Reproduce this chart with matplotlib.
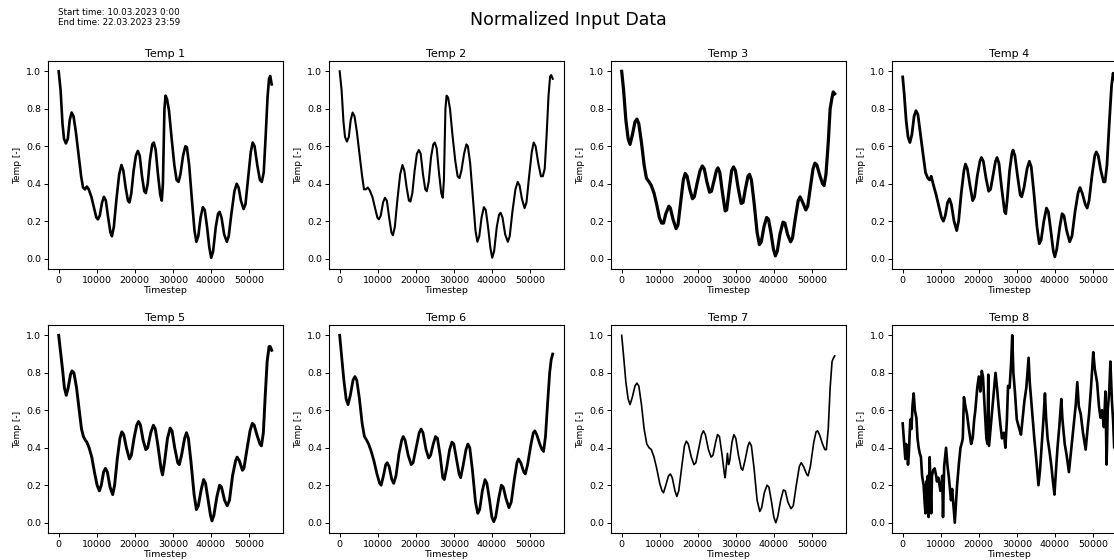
import numpy as np
import matplotlib
matplotlib.use("Agg")
import matplotlib.pyplot as plt

# ---------------- data (timesteps in thousands, normalized values) ----------------
titles = ["Temp 1", "Temp 2", "Temp 3", "Temp 4", "Temp 5", "Temp 6", "Temp 7", "Temp 8"]
start_time = "10.03.2023 0:00"
end_time = "22.03.2023 23:59"
x_ticks = [0, 10000, 20000, 30000, 40000, 50000]
y_ticks = [0.0, 0.2, 0.4, 0.6, 0.8, 1.0]

temp1_t = [0, 0.5, 1.0, 1.4, 1.9, 2.4, 2.9, 3.4, 3.9, 4.5, 5.2, 5.9, 6.4, 6.9, 7.4, 7.9, 8.6, 9.3, 9.9, 10.3,
           10.8, 11.4, 11.9, 12.4, 13.0, 13.6, 14.0, 14.5, 15.2, 15.9, 16.5, 17.0, 17.6, 18.2, 18.6, 19.1, 19.7,
           20.3, 20.8, 21.3, 21.9, 22.5, 22.9, 23.4, 24.0, 24.6, 25.0, 25.5, 26.1, 26.7, 27.1, 27.4, 27.8, 28.1,
           28.5, 29.0, 29.7, 30.4, 31.0, 31.5, 32.0, 32.7, 33.3, 33.7, 34.3, 35.0, 35.7, 36.2, 36.7, 37.3, 37.9,
           38.4, 39.0, 39.6, 40.1, 40.6, 41.3, 41.9, 42.3, 42.8, 43.5, 44.2, 44.7, 45.4, 46.2, 46.8, 47.3, 47.9,
           48.6, 49.1, 49.8, 50.5, 51.0, 51.5, 52.2, 52.9, 53.4, 53.9, 54.4, 54.9, 55.3, 55.6, 56.0]
temp1_v = [1.00, 0.90, 0.72, 0.64, 0.615, 0.64, 0.74, 0.78, 0.76, 0.68, 0.56, 0.44, 0.38, 0.37, 0.385, 0.37,
           0.33, 0.27, 0.22, 0.21, 0.23, 0.30, 0.33, 0.31, 0.22, 0.14, 0.12, 0.17, 0.32, 0.45, 0.50, 0.47, 0.38,
           0.31, 0.30, 0.35, 0.47, 0.55, 0.575, 0.55, 0.44, 0.36, 0.35, 0.40, 0.53, 0.61, 0.62, 0.58, 0.45, 0.34,
           0.31, 0.40, 0.80, 0.87, 0.85, 0.79, 0.64, 0.50, 0.42, 0.41, 0.45, 0.55, 0.60, 0.595, 0.50, 0.32, 0.15,
           0.09, 0.12, 0.22, 0.275, 0.26, 0.17, 0.06, 0.005, 0.04, 0.17, 0.24, 0.25, 0.22, 0.13, 0.09, 0.12, 0.24,
           0.36, 0.40, 0.38, 0.31, 0.265, 0.29, 0.43, 0.57, 0.62, 0.60, 0.50, 0.42, 0.41, 0.46, 0.65, 0.86, 0.96,
           0.975, 0.93]

temp2_t = list(temp1_t)
temp2_v = [1.00, 0.90, 0.73, 0.65, 0.625, 0.65, 0.74, 0.78, 0.76, 0.68, 0.56, 0.44, 0.37, 0.37, 0.38, 0.365,
           0.33, 0.27, 0.22, 0.21, 0.23, 0.30, 0.325, 0.31, 0.22, 0.14, 0.125, 0.17, 0.32, 0.45, 0.50, 0.47, 0.38,
           0.31, 0.305, 0.35, 0.47, 0.56, 0.58, 0.56, 0.45, 0.37, 0.36, 0.41, 0.54, 0.61, 0.62, 0.59, 0.46, 0.35,
           0.325, 0.42, 0.80, 0.87, 0.86, 0.80, 0.65, 0.52, 0.44, 0.43, 0.47, 0.56, 0.61, 0.60, 0.51, 0.33, 0.15,
           0.09, 0.12, 0.22, 0.275, 0.26, 0.17, 0.06, 0.005, 0.04, 0.17, 0.235, 0.245, 0.22, 0.13, 0.09, 0.12,
           0.25, 0.37, 0.41, 0.39, 0.32, 0.27, 0.30, 0.44, 0.57, 0.62, 0.60, 0.51, 0.44, 0.44, 0.48, 0.66, 0.87,
           0.97, 0.98, 0.96]

temp3_t = [0, 0.5, 1.1, 1.7, 2.2, 2.8, 3.5, 4.0, 4.5, 5.2, 5.9, 6.5, 7.2, 7.8, 8.5, 9.2, 9.9, 10.5, 11.0, 11.6,
           12.4, 12.8, 13.5, 14.3, 14.8, 15.5, 16.2, 16.7, 17.2, 17.9, 18.6, 19.1, 19.8, 20.6, 21.2, 21.7, 22.4,
           23.1, 23.6, 24.2, 24.9, 25.3, 25.8, 26.5, 27.2, 27.6, 28.2, 28.9, 29.4, 29.9, 30.6, 31.4, 31.9, 32.5,
           33.2, 33.6, 34.1, 34.8, 35.6, 36.2, 36.7, 37.4, 38.1, 38.6, 39.3, 39.9, 40.4, 40.9, 41.6, 42.4, 42.9,
           43.6, 44.4, 44.9, 45.6, 46.4, 46.9, 47.6, 48.4, 48.9, 49.6, 50.3, 50.8, 51.3, 52.0, 52.8, 53.2, 53.7,
           54.3, 54.8, 55.3, 55.6, 56.0]
temp3_v = [1.00, 0.90, 0.74, 0.64, 0.61, 0.66, 0.73, 0.745, 0.72, 0.62, 0.50, 0.43, 0.41, 0.39, 0.35, 0.29,
           0.22, 0.19, 0.19, 0.24, 0.28, 0.27, 0.21, 0.16, 0.18, 0.30, 0.42, 0.455, 0.44, 0.37, 0.32, 0.33, 0.40,
           0.47, 0.495, 0.48, 0.41, 0.355, 0.36, 0.41, 0.47, 0.485, 0.46, 0.35, 0.255, 0.26, 0.36, 0.47, 0.49,
           0.47, 0.38, 0.295, 0.30, 0.37, 0.44, 0.45, 0.42, 0.30, 0.14, 0.075, 0.09, 0.17, 0.22, 0.21, 0.13, 0.05,
           0.015, 0.04, 0.13, 0.195, 0.19, 0.13, 0.09, 0.11, 0.21, 0.31, 0.33, 0.30, 0.26, 0.28, 0.38, 0.48, 0.51,
           0.50, 0.45, 0.40, 0.39, 0.45, 0.62, 0.80, 0.86, 0.89, 0.88]

temp4_t = [0, 0.4, 0.9, 1.4, 1.9, 2.4, 3.0, 3.5, 4.0, 4.7, 5.4, 6.0, 6.6, 7.1, 7.5, 8.0, 8.8, 9.5, 10.2, 10.7,
           11.2, 11.8, 12.3, 12.8, 13.5, 14.2, 14.7, 15.4, 16.1, 16.5, 17.0, 17.7, 18.4, 18.9, 19.6, 20.3, 20.7,
           21.2, 21.9, 22.6, 23.1, 23.8, 24.4, 24.8, 25.3, 26.0, 26.8, 27.1, 27.5, 28.1, 28.7, 29.0, 29.5, 30.2,
           30.9, 31.3, 31.9, 32.7, 33.3, 33.8, 34.5, 35.3, 35.9, 36.4, 37.1, 37.8, 38.3, 39.0, 39.6, 40.0, 40.5,
           41.3, 41.9, 42.4, 43.1, 43.9, 44.5, 45.3, 46.1, 46.6, 47.2, 48.0, 48.5, 49.0, 49.8, 50.5, 50.9, 51.4,
           52.1, 52.8, 53.2, 53.7, 54.3, 54.9, 55.3, 55.6, 56.0]
temp4_v = [0.97, 0.88, 0.74, 0.65, 0.62, 0.66, 0.76, 0.79, 0.77, 0.66, 0.55, 0.46, 0.43, 0.42, 0.44, 0.40,
           0.34, 0.28, 0.22, 0.20, 0.23, 0.30, 0.32, 0.29, 0.20, 0.15, 0.20, 0.35, 0.47, 0.505, 0.48, 0.39, 0.31,
           0.33, 0.44, 0.52, 0.54, 0.52, 0.43, 0.36, 0.37, 0.45, 0.52, 0.54, 0.51, 0.38, 0.25, 0.24, 0.32, 0.47,
           0.56, 0.58, 0.55, 0.44, 0.34, 0.33, 0.38, 0.48, 0.52, 0.49, 0.35, 0.17, 0.08, 0.10, 0.20, 0.27, 0.25,
           0.14, 0.04, 0.01, 0.05, 0.17, 0.24, 0.23, 0.15, 0.09, 0.12, 0.25, 0.35, 0.38, 0.35, 0.29, 0.27, 0.31,
           0.45, 0.55, 0.57, 0.55, 0.47, 0.41, 0.41, 0.50, 0.72, 0.92, 0.99, 0.97, 0.94]

temp5_t = [0, 0.5, 1.0, 1.5, 2.0, 2.5, 3.1, 3.5, 4.0, 4.7, 5.4, 6.0, 6.5, 7.0, 7.4, 8.0, 8.7, 9.4, 10.1, 10.7,
           11.2, 11.8, 12.3, 12.8, 13.5, 14.2, 14.7, 15.4, 16.1, 16.6, 17.1, 17.8, 18.6, 19.1, 19.8, 20.5, 21.0,
           21.5, 22.2, 22.9, 23.4, 24.2, 24.9, 25.4, 26.1, 26.9, 27.3, 27.8, 28.6, 29.3, 29.8, 30.5, 31.3, 31.7,
           32.3, 33.1, 33.6, 34.1, 34.8, 35.6, 36.2, 36.7, 37.5, 38.1, 38.6, 39.3, 39.9, 40.3, 40.8, 41.6, 42.3,
           42.8, 43.6, 44.3, 44.9, 45.7, 46.5, 46.9, 47.5, 48.3, 48.7, 49.4, 50.3, 50.9, 51.4, 52.1, 52.9, 53.3,
           53.8, 54.3, 54.8, 55.3, 55.6, 56.0]
temp5_v = [1.00, 0.91, 0.82, 0.72, 0.68, 0.72, 0.79, 0.81, 0.80, 0.72, 0.60, 0.50, 0.46, 0.44, 0.43, 0.40,
           0.35, 0.27, 0.20, 0.17, 0.20, 0.27, 0.29, 0.27, 0.19, 0.15, 0.20, 0.34, 0.45, 0.485, 0.47, 0.40, 0.34,
           0.36, 0.45, 0.52, 0.54, 0.52, 0.44, 0.39, 0.40, 0.48, 0.52, 0.50, 0.41, 0.29, 0.255, 0.32, 0.45, 0.505,
           0.49, 0.40, 0.32, 0.31, 0.36, 0.45, 0.48, 0.45, 0.32, 0.15, 0.07, 0.09, 0.18, 0.23, 0.21, 0.12, 0.04,
           0.01, 0.04, 0.14, 0.20, 0.19, 0.12, 0.09, 0.12, 0.25, 0.33, 0.35, 0.33, 0.28, 0.29, 0.38, 0.49, 0.53,
           0.52, 0.47, 0.42, 0.41, 0.48, 0.68, 0.86, 0.94, 0.94, 0.92]

temp6_t = [0, 0.5, 1.1, 1.7, 2.2, 2.8, 3.5, 4.0, 4.5, 5.2, 5.9, 6.5, 7.1, 7.6, 8.3, 9.0, 9.8, 10.5, 10.9, 11.5,
           12.1, 12.5, 13.0, 13.7, 14.2, 14.8, 15.6, 16.3, 16.7, 17.2, 18.0, 18.8, 19.3, 20.1, 20.9, 21.4, 21.9,
           22.7, 23.4, 23.9, 24.6, 25.2, 25.7, 26.4, 27.1, 27.5, 28.1, 28.9, 29.5, 30.0, 30.7, 31.4, 31.8, 32.4,
           33.2, 33.7, 34.2, 34.9, 35.7, 36.3, 36.8, 37.5, 38.2, 38.7, 39.4, 40.0, 40.5, 41.0, 41.8, 42.5, 43.0,
           43.7, 44.5, 45.1, 45.9, 46.6, 47.0, 47.6, 48.4, 48.8, 49.4, 50.3, 50.9, 51.3, 51.8, 52.6, 53.2, 53.6,
           54.1, 54.7, 55.2, 55.6, 56.0]
temp6_v = [1.00, 0.89, 0.76, 0.66, 0.63, 0.68, 0.76, 0.78, 0.76, 0.66, 0.53, 0.46, 0.44, 0.42, 0.38, 0.33,
           0.26, 0.21, 0.20, 0.25, 0.31, 0.32, 0.30, 0.23, 0.21, 0.25, 0.37, 0.44, 0.46, 0.44, 0.36, 0.31, 0.32,
           0.40, 0.48, 0.50, 0.48, 0.39, 0.345, 0.36, 0.42, 0.46, 0.45, 0.36, 0.24, 0.23, 0.29, 0.39, 0.43, 0.42,
           0.34, 0.26, 0.24, 0.30, 0.39, 0.42, 0.40, 0.28, 0.11, 0.05, 0.07, 0.17, 0.23, 0.21, 0.12, 0.03, 0.005,
           0.03, 0.13, 0.20, 0.19, 0.13, 0.08, 0.11, 0.23, 0.32, 0.34, 0.32, 0.27, 0.26, 0.31, 0.42, 0.48, 0.49,
           0.47, 0.42, 0.39, 0.38, 0.46, 0.65, 0.80, 0.87, 0.90]

temp7_t = [0, 0.5, 1.1, 1.7, 2.2, 2.8, 3.5, 4.0, 4.5, 5.2, 5.9, 6.6, 7.2, 7.8, 8.5, 9.2, 10.0, 10.6, 11.0, 11.6,
           12.3, 12.8, 13.3, 14.0, 14.5, 15.0, 15.8, 16.5, 17.0, 17.5, 18.3, 19.0, 19.5, 20.3, 21.0, 21.5, 22.0,
           22.8, 23.5, 24.0, 24.7, 25.2, 25.7, 26.4, 27.0, 27.2, 27.5, 27.8, 28.1, 28.4, 29.0, 29.5, 30.0, 30.7,
           31.4, 31.8, 32.4, 33.2, 33.6, 34.1, 34.8, 35.6, 36.3, 36.8, 37.5, 38.2, 38.7, 39.4, 40.0, 40.5, 41.0,
           41.8, 42.5, 43.0, 43.7, 44.5, 45.1, 45.9, 46.7, 47.2, 47.8, 48.6, 49.0, 49.6, 50.5, 51.1, 51.5, 52.0,
           52.8, 53.4, 53.8, 54.3, 54.8, 55.3, 55.7, 56.0]
temp7_v = [1.00, 0.89, 0.75, 0.66, 0.63, 0.67, 0.73, 0.745, 0.73, 0.63, 0.50, 0.42, 0.40, 0.39, 0.35, 0.29,
           0.21, 0.17, 0.16, 0.20, 0.25, 0.26, 0.24, 0.17, 0.14, 0.17, 0.30, 0.41, 0.435, 0.42, 0.35, 0.31, 0.32,
           0.40, 0.47, 0.49, 0.47, 0.39, 0.35, 0.36, 0.43, 0.47, 0.46, 0.36, 0.26, 0.24, 0.30, 0.37, 0.31, 0.33,
           0.43, 0.47, 0.45, 0.36, 0.29, 0.28, 0.33, 0.41, 0.43, 0.41, 0.29, 0.12, 0.06, 0.08, 0.16, 0.20, 0.19,
           0.11, 0.03, 0.0, 0.03, 0.12, 0.175, 0.17, 0.11, 0.075, 0.09, 0.20, 0.30, 0.32, 0.30, 0.26, 0.25, 0.30,
           0.43, 0.485, 0.49, 0.47, 0.42, 0.39, 0.39, 0.50, 0.72, 0.86, 0.88, 0.89]

temp8_t = [0, 0.3, 0.7, 0.9, 1.1, 1.4, 1.6, 2.0, 2.3, 2.6, 2.9, 3.2, 3.6, 3.9, 4.2, 4.5, 4.8, 5.1, 5.5, 5.8,
           6.0, 6.2, 6.4, 6.6, 6.8, 7.1, 7.3, 7.5, 7.7, 8.0, 8.4, 8.8, 9.0, 9.4, 9.9, 10.2, 10.4, 10.6, 10.9,
           11.4, 11.8, 12.1, 12.5, 12.7, 13.0, 13.4, 13.7, 14.0, 14.3, 14.8, 15.2, 15.6, 15.8, 16.1, 16.5, 16.9,
           17.4, 18.0, 18.4, 18.8, 19.1, 19.6, 20.0, 20.4, 20.8, 21.1, 21.6, 22.0, 22.3, 22.5, 22.7, 23.0, 23.5,
           24.0, 24.4, 24.8, 25.3, 25.7, 26.1, 26.6, 27.0, 27.4, 27.7, 28.1, 28.5, 28.8, 29.1, 29.5, 30.0, 30.4,
           30.8, 31.1, 31.5, 32.0, 32.5, 33.1, 33.4, 33.8, 34.2, 34.6, 35.2, 35.7, 36.1, 36.5, 37.0, 37.4, 37.7,
           38.1, 38.6, 39.1, 39.5, 39.9, 40.3, 40.7, 41.2, 41.7, 42.0, 42.6, 43.1, 43.7, 44.1, 44.6, 45.1, 45.5,
           45.9, 46.3, 46.8, 47.4, 48.1, 48.6, 49.0, 49.5, 50.1, 50.5, 51.1, 51.6, 52.0, 52.4, 52.9, 53.3, 53.6,
           53.9, 54.3, 54.6, 55.0, 55.3, 55.6, 56.0]
temp8_v = [0.53, 0.45, 0.34, 0.42, 0.40, 0.31, 0.36, 0.55, 0.50, 0.63, 0.69, 0.60, 0.56, 0.45, 0.40, 0.37,
           0.35, 0.25, 0.20, 0.10, 0.05, 0.22, 0.12, 0.25, 0.03, 0.35, 0.18, 0.05, 0.25, 0.28, 0.29, 0.25, 0.22,
           0.24, 0.17, 0.20, 0.25, 0.03, 0.30, 0.40, 0.30, 0.25, 0.16, 0.12, 0.18, 0.08, 0.00, 0.10, 0.20, 0.32,
           0.40, 0.43, 0.45, 0.67, 0.62, 0.58, 0.50, 0.42, 0.45, 0.55, 0.60, 0.72, 0.78, 0.70, 0.81, 0.78, 0.60,
           0.45, 0.42, 0.79, 0.41, 0.48, 0.60, 0.72, 0.80, 0.72, 0.60, 0.52, 0.45, 0.48, 0.40, 0.55, 0.73, 0.72,
           0.85, 1.00, 0.80, 0.70, 0.55, 0.52, 0.49, 0.47, 0.55, 0.65, 0.72, 0.88, 0.75, 0.65, 0.55, 0.45, 0.32,
           0.20, 0.28, 0.40, 0.55, 0.69, 0.56, 0.45, 0.38, 0.30, 0.22, 0.15, 0.28, 0.40, 0.52, 0.66, 0.55, 0.42,
           0.36, 0.27, 0.35, 0.45, 0.55, 0.63, 0.75, 0.62, 0.58, 0.48, 0.39, 0.50, 0.58, 0.72, 0.91, 0.82, 0.75,
           0.62, 0.56, 0.60, 0.51, 0.70, 0.31, 0.60, 0.70, 0.86, 0.65, 0.55, 0.40, 0.45]

series_t = [temp1_t, temp2_t, temp3_t, temp4_t, temp5_t, temp6_t, temp7_t, temp8_t]
series_v = [temp1_v, temp2_v, temp3_v, temp4_v, temp5_v, temp6_v, temp7_v, temp8_v]
n_timesteps = 56160

# ---------------- styling ----------------
line_widths = [1.9, 1.5, 2.3, 2.0, 2.1, 2.0, 1.2, 1.9]
W, H = 1114, 560
col_left_px = [48, 329, 611, 892]
ax_w_px = 235
row_top_px = [61, 325]
ax_h_px = 208

fig = plt.figure(figsize=(W / 100, H / 100), dpi=100)

for i, (t, v) in enumerate(zip(series_t, series_v)):
    r, c = divmod(i, 4)
    left = col_left_px[c] / W
    bottom = 1 - (row_top_px[r] + ax_h_px) / H
    ax = fig.add_axes([left, bottom, ax_w_px / W, ax_h_px / H])
    x = np.asarray(t) * 1000.0
    ax.plot(x, v, color="black", linewidth=line_widths[i], solid_joinstyle="round")
    ax.set_xlim(-0.05 * n_timesteps, 1.05 * n_timesteps)
    ax.set_ylim(-0.055, 1.055)
    ax.set_xticks(x_ticks)
    ax.set_yticks(y_ticks)
    ax.tick_params(labelsize=6.8, length=3, width=0.7, pad=2)
    for s in ax.spines.values():
        s.set_linewidth(0.8)
    ax.set_title(titles[i], fontsize=8, pad=3)
    ax.set_ylabel("Temp [-]", fontsize=6.5, labelpad=3)
    ax.set_xlabel("Timestep", fontsize=6.8, labelpad=1)

fig.text(568 / W, 1 - 20 / H, "Normalized Input Data", ha="center", va="center", fontsize=12.5)
fig.text(58 / W, 1 - 8 / H, f"Start time: {start_time}\nEnd time: {end_time}",
         ha="left", va="top", fontsize=6.3, linespacing=1.1)

fig.savefig("out.png", dpi=100)
